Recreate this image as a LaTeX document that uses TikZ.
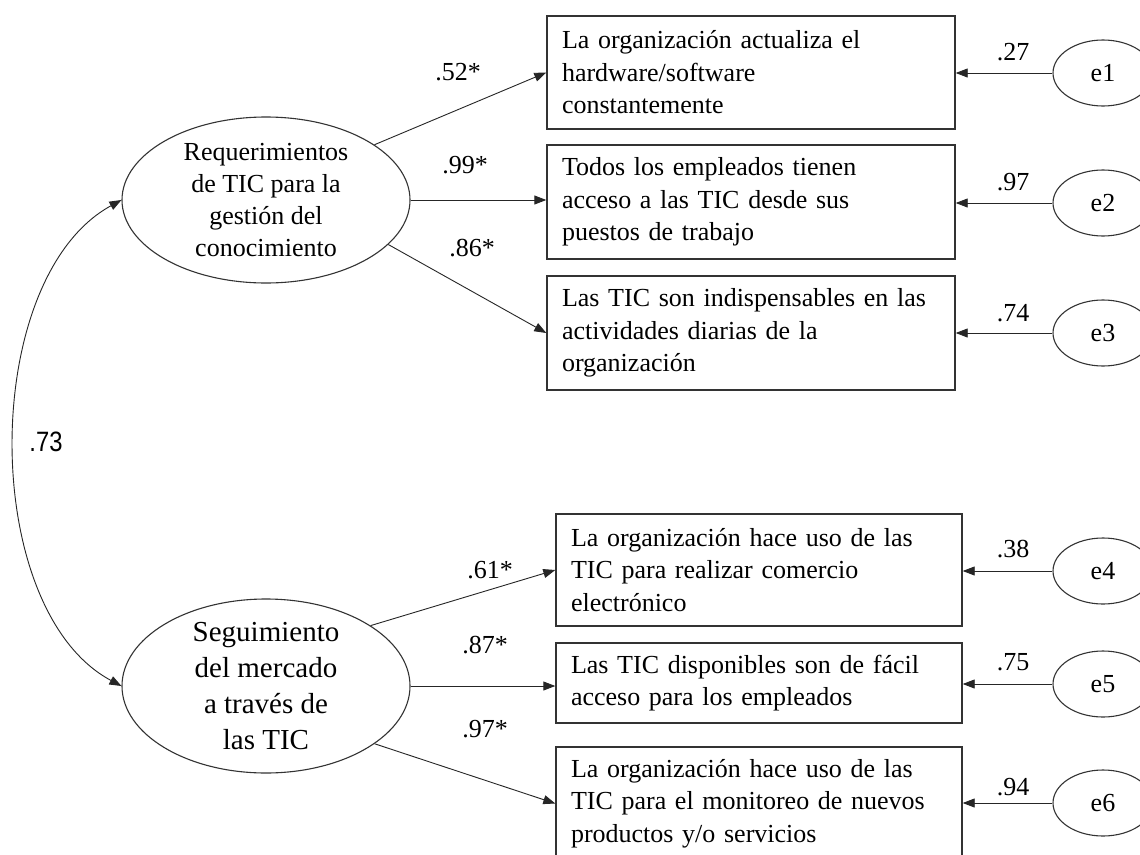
\documentclass[tikz,border=0pt]{standalone}
\usepackage{fontspec}
\setmainfont{Liberation Serif}
\newfontfamily\narrowsans{Liberation Sans}[FakeStretch=0.85]
\usetikzlibrary{shapes.geometric,arrows.meta}
\tikzset{
  conn/.style={line width=0.9pt, draw=black!85, -{Triangle[length=12pt,width=9pt]}},
  corrarrow/.style={line width=0.9pt, draw=black!85, {Triangle[length=12pt,width=9pt]}-{Triangle[length=12pt,width=9pt]}},
  itembox/.style={draw=black!80, line width=1.4pt, rectangle, inner xsep=15pt, inner ysep=0pt, align=left, font=\fontsize{26}{32.5}\selectfont},
  latent/.style={draw=black!80, line width=1.1pt, ellipse, inner sep=0pt},
  errnode/.style={draw=black!80, line width=1.1pt, ellipse, minimum width=100pt, minimum height=66pt, inner sep=0pt, font=\fontsize{26}{28}\selectfont},
  coef/.style={font=\fontsize{26}{28}\selectfont, inner sep=0pt},
}
\begin{document}
\begin{tikzpicture}[x=1pt, y=-1pt]
\useasboundingbox (0,0) rectangle (1140,854);
\fill[white] (0,0) rectangle (1140,854);
\clip (0,0) rectangle (1140,854);

% latent variables
\node[latent, minimum width=288pt, minimum height=166pt] (r1) at (266,200) {};
\node[align=center, inner sep=0pt, font=\fontsize{26}{32}\selectfont] (r1t) at (r1.center) {Requerimientos\\de TIC para la\\gestión del\\conocimiento};
\node[latent, minimum width=288pt, minimum height=174pt] (r2) at (266,686) {};
\node[align=center, inner sep=0pt, font=\fontsize{29}{36}\selectfont] (r2t) at (r2.center) {Seguimiento\\del mercado\\a través de\\las TIC};

% indicator boxes
\node[itembox, text width=378pt, minimum height=113pt] (b1) at (751,72.5) {La organización actualiza el\\hardware/software\\constantemente};
\node[itembox, text width=378pt, minimum height=114pt] (b2) at (751,202) {Todos los empleados tienen\\acceso a las TIC desde sus\\puestos de trabajo};
\node[itembox, text width=378pt, minimum height=114pt] (b3) at (751,333) {Las TIC son indispensables en las\\actividades diarias de la\\organización};
\node[itembox, text width=376pt, minimum height=112pt] (b4) at (759,570) {La organización hace uso de las\\TIC para realizar comercio\\electrónico};
\node[itembox, text width=376pt, minimum height=80pt] (b5) at (759,683) {Las TIC disponibles son de fácil\\acceso para los empleados};
\node[itembox, text width=376pt, minimum height=113pt] (b6) at (759,803.5) {La organización hace uso de las\\TIC para el monitoreo de nuevos\\productos y/o servicios};

% error terms
\node[errnode] (e1) at (1103,73) {e1};
\node[errnode] (e2) at (1103,203) {e2};
\node[errnode] (e3) at (1103,333) {e3};
\node[errnode] (e4) at (1103,571) {e4};
\node[errnode] (e5) at (1103,684) {e5};
\node[errnode] (e6) at (1103,803) {e6};

% loadings
\draw[conn] (r1.27) -- (b1.west);
\draw[conn] (r1.east) -- (r1.east -| b2.west);
\draw[conn] (r1.-20) -- (b3.west);
\draw[conn] (r2.30) -- (b4.west);
\draw[conn] (r2.east) -- (r2.east -| b5.west);
\draw[conn] (r2.-28) -- (b6.west);

% error arrows
\foreach \i in {1,...,6}{
  \draw[conn] (e\i.west) -- (e\i.west -| b\i.east);
}

% correlation
\draw[corrarrow] (r1.west) .. controls (-21,278) and (-21,610) .. (r2.west);

% coefficient labels
\node[coef] (l1) at (458,72) {.52*};
\node[coef] (l2) at (465,165) {.99*};
\node[coef] (l3) at (472,248) {.86*};
\node[coef] (l4) at (490,570) {.61*};
\node[coef] (l5) at (485,645) {.87*};
\node[coef] (l6) at (485,729) {.97*};

\node[coef] (v1) at (1013,52) {.27};
\node[coef] (v2) at (1013,182) {.97};
\node[coef] (v3) at (1013,313) {.74};
\node[coef] (v4) at (1013,549) {.38};
\node[coef] (v5) at (1013,662) {.75};
\node[coef] (v6) at (1013,787) {.94};

\node[inner sep=0pt, font=\narrowsans\fontsize{28}{30}\selectfont] (corr) at (46,442) {.73};
\end{tikzpicture}
\end{document}
